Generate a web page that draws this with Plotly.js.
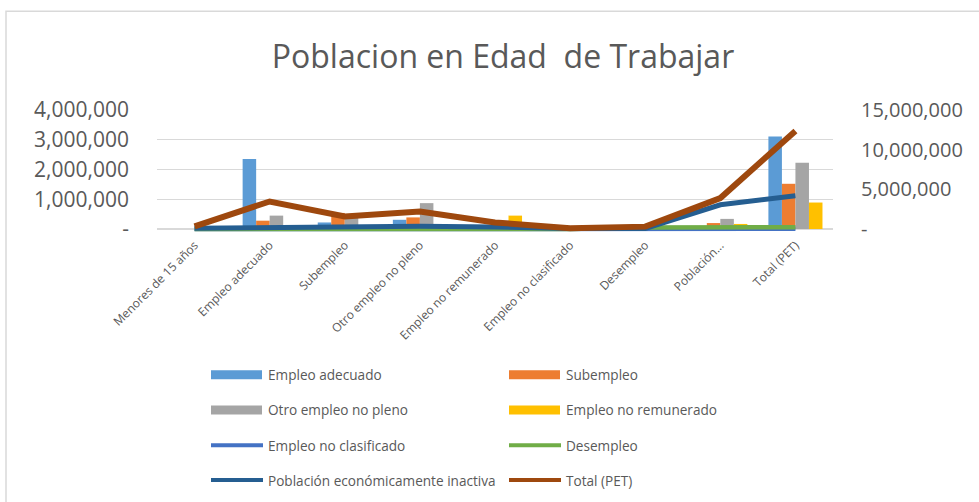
<!DOCTYPE html>
<html>
<head>
<meta charset="utf-8">
<script src="https://cdn.plot.ly/plotly-3.0.1.min.js"></script>
<style>html,body{margin:0;padding:0;background:#fff;}#chart{width:979px;height:502px;}</style>
</head>
<body>
<div id="chart"></div>
<script>
// ---- Data ----
var categories = ['Menores de 15 años','Empleo adecuado','Subempleo','Otro empleo no pleno','Empleo no remunerado','Empleo no clasificado','Desempleo','Población económicamente inactiva','Total (PET)'];
var categoryLabels = ['Menores de 15 años','Empleo adecuado','Subempleo','Otro empleo no pleno','Empleo no remunerado','Empleo no clasificado','Desempleo','Población...','Total (PET)'];

// bar series (primary axis)
var empleoAdecuado     = [0, 2350000, 220000, 310000, 0, 0, 0, 0, 3110000];
var subempleo          = [0, 280000, 540000, 390000, 0, 0, 0, 200000, 1520000];
var otroEmpleoNoPleno  = [0, 450000, 450000, 870000, 0, 0, 0, 340000, 2230000];
var empleoNoRemunerado = [0, 0, 0, 0, 450000, 0, 0, 170000, 890000];

// line series (secondary axis)
var empleoNoClasificado = [0, 0, 0, 0, 0, 20000, 0, 0, 20000];
var desempleo           = [0, 0, 0, 0, 0, 0, 200000, 220000, 230000];
var poblacionInactiva   = [100000, 200000, 250000, 350000, 250000, 50000, 50000, 3050000, 4200000];
var totalPET            = [330000, 3470000, 1580000, 2200000, 830000, 100000, 300000, 3900000, 12360000];

var barNames = ['Empleo adecuado','Subempleo','Otro empleo no pleno','Empleo no remunerado'];
var lineNames = ['Empleo no clasificado','Desempleo','Población económicamente inactiva','Total (PET)'];
var primaryTicks = [0, 1000000, 2000000, 3000000, 4000000];
var primaryTickText = ['-', '1,000,000', '2,000,000', '3,000,000', '4,000,000'];
var secondaryTicks = [0, 5000000, 10000000, 15000000];
var secondaryTickText = ['-', '5,000,000', '10,000,000', '15,000,000'];

// ---- Styles ----
var barColors = ['#5B9BD5', '#ED7D31', '#A5A5A5', '#FFC000'];
var lineColors = ['#4472C4', '#70AD47', '#255E91', '#9E480E'];
var lineWidths = [4.5, 4.5, 5, 6];
var barData = [empleoAdecuado, subempleo, otroEmpleoNoPleno, empleoNoRemunerado];
var lineData = [empleoNoClasificado, desempleo, poblacionInactiva, totalPET];

var traces = [];
barData.forEach(function (vals, i) {
  traces.push({type: 'bar', x: categories, y: vals, name: barNames[i], yaxis: 'y',
    marker: {color: barColors[i], line: {width: 0}}, showlegend: false, hoverinfo: 'skip'});
});
lineData.forEach(function (vals, i) {
  traces.push({type: 'scatter', mode: 'lines', x: categories, y: vals, name: lineNames[i], yaxis: 'y2',
    line: {color: lineColors[i], width: lineWidths[i]}, showlegend: false, hoverinfo: 'skip'});
});

// plot area pixel geometry
var W = 979, H = 502;
var plotL = 157, plotR = 833, plotT = 110, plotB = 233.3;
function px(x) { return (x - plotL) / (plotR - plotL); }
function py(y) { return (plotB - y) / (plotB - plotT); }

var shapes = [];
var annotations = [];
// chart border
shapes.push({type: 'rect', xref: 'paper', yref: 'paper', x0: px(6), x1: px(995), y0: py(520), y1: py(11),
  line: {color: '#D9D9D9', width: 1.5}, fillcolor: 'rgba(0,0,0,0)', layer: 'below'});

// custom legend
var legendNames = barNames.concat(lineNames);
var legendColX = [211, 509];
var legendRowY = [375.5, 410.7, 446, 481];
legendNames.forEach(function (name, k) {
  var col = k % 2, row = Math.floor(k / 2);
  var x0 = legendColX[col], yc = legendRowY[row];
  if (k < 4) {
    shapes.push({type: 'rect', xref: 'paper', yref: 'paper', x0: px(x0), x1: px(x0 + 51), y0: py(yc + 4.5), y1: py(yc - 4.5),
      fillcolor: barColors[k], line: {width: 0}});
  } else {
    shapes.push({type: 'line', xref: 'paper', yref: 'paper', x0: px(x0), x1: px(x0 + 52), y0: py(yc), y1: py(yc),
      line: {color: lineColors[k - 4], width: 4}});
  }
  annotations.push({xref: 'paper', yref: 'paper', x: px(x0 + 55), y: py(yc), xanchor: 'left', yanchor: 'middle',
    text: name, showarrow: false, font: {family: 'Open Sans, sans-serif', size: 13.6, color: '#595959'}});
});

var pxPerUnit1 = (plotB - 4 - plotT) / 4000000;
var pxPerUnit2 = (plotB - 4 - plotT) / 15000000;

var layout = {
  width: W, height: H,
  paper_bgcolor: '#ffffff', plot_bgcolor: '#ffffff',
  margin: {l: plotL, r: W - plotR, t: plotT, b: H - plotB, pad: 0},
  title: {text: 'Poblacion en Edad  de Trabajar', x: 503 / W, xref: 'container', xanchor: 'center',
    y: 1 - 57 / H, yref: 'container', yanchor: 'middle',
    font: {family: 'Open Sans, sans-serif', size: 32, color: '#595959'}},
  barmode: 'group', bargap: 0.28, bargroupgap: 0,
  showlegend: false,
  xaxis: {type: 'category', tickvals: categories, ticktext: categoryLabels, tickangle: -45,
    tickfont: {family: 'Open Sans, sans-serif', size: 12, color: '#595959'},
    showgrid: false, zeroline: false, showline: false, ticks: '', ticklabelstandoff: 2, automargin: false},
  yaxis: {range: [-4 / pxPerUnit1, 4000000], tickvals: primaryTicks, ticktext: primaryTickText,
    tickfont: {family: 'Open Sans, sans-serif', size: 21, color: '#595959'},
    showgrid: true, gridcolor: '#D9D9D9', gridwidth: 1.2, zeroline: false, showline: false,
    ticks: '', ticklabelstandoff: 27, automargin: false},
  yaxis2: {range: [-4 / pxPerUnit2, 15000000], overlaying: 'y', side: 'right',
    tickvals: secondaryTicks, ticktext: secondaryTickText,
    tickfont: {family: 'Open Sans, sans-serif', size: 20, color: '#595959'},
    showgrid: false, zeroline: false, showline: false, ticks: '', ticklabelstandoff: 27, automargin: false},
  shapes: shapes,
  annotations: annotations
};

Plotly.newPlot('chart', traces, layout, {staticPlot: true, displayModeBar: false});
</script>
</body>
</html>
